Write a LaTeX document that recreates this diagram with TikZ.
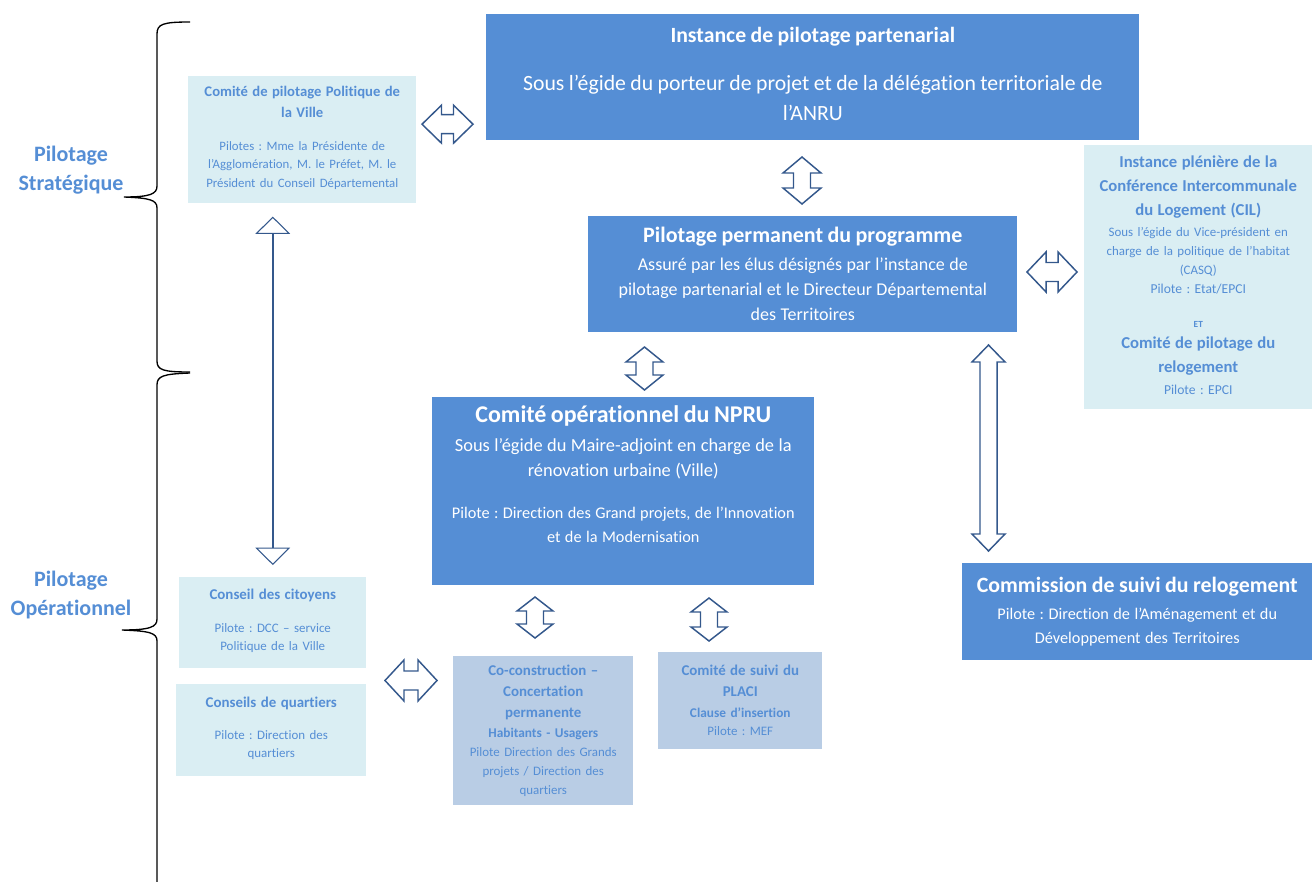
\documentclass[tikz,border=0pt]{standalone}
\usepackage{fontspec}
\setmainfont{Carlito}[Ligatures={NoCommon}]
\usetikzlibrary{arrows.meta}
\frenchspacing

\definecolor{pilotblue}{RGB}{85,142,213}
\definecolor{lightcyan}{RGB}{218,238,243}
\definecolor{steelbox}{RGB}{185,205,229}
\definecolor{arrowline}{RGB}{52,88,140}

\newcommand{\px}{0.75pt}
\newcommand{\fsz}[2]{\fontsize{#1}{#2}\selectfont}

\tikzset{
  boxsize/.style 2 args={minimum width=#1*\px, minimum height=#2*\px,
    text width=#1*\px-6pt},
  darkbox/.style={fill=pilotblue, text=white, inner sep=0pt,
    align=center, anchor=north west},
  lightbox/.style={fill=lightcyan, text=pilotblue, inner sep=0pt,
    align=center, anchor=north west},
  midbox/.style={fill=steelbox, text=pilotblue, inner sep=0pt,
    align=center, anchor=north west},
  sidelabel/.style={text=pilotblue, font=\bfseries\fsz{16.5}{21.75},
    align=center},
  blockarrow/.style={draw=arrowline, line width=1.1pt, fill=white,
    line join=miter},
  linkarrow/.style={draw=arrowline, line width=1.5pt,
    {Triangle[open, width=26pt, length=13pt, line width=0.8pt]}-{Triangle[open, width=26pt, length=13pt, line width=0.8pt]}},
  brace/.style={draw=black, line width=1pt},
  pics/dblarrow/.style n args={4}{code={
    \draw[blockarrow] (-#1,0) -- (-#1+#4,#3) -- (-#1+#4,#2) -- (#1-#4,#2)
      -- (#1-#4,#3) -- (#1,0) -- (#1-#4,-#3) -- (#1-#4,-#2)
      -- (-#1+#4,-#2) -- (-#1+#4,-#3) -- cycle;
  }}
}

\begin{document}
\begin{tikzpicture}[x=0.75pt, y=-0.75pt]
  \useasboundingbox (0,0) rectangle (1312,881);

  % top level
  \node[darkbox, boxsize={653}{126}] (inst) at (486,14) {%
    {\bfseries\fsz{16.3}{22.5}Instance de pilotage partenarial\par}
    \vspace{13.5pt}
    {\fsz{16.3}{22.5}Sous l’égide du porteur de projet et de la délégation territoriale de\\l’ANRU\par}
    \vspace{4.5pt}};

  \node[lightbox, boxsize={228}{127}] (polville) at (188,76) {%
    {\bfseries\fsz{11}{15.75}Comité de pilotage Politique de\\la Ville\par}
    \vspace{10.75pt}
    {\fsz{9.6}{14}Pilotes : Mme la Présidente de\\l’Agglomération, M. le Préfet, M. le\\Président du Conseil Départemental\par}
    \vspace{3pt}};

  \node[darkbox, boxsize={429}{116}] (perm) at (588,216) {%
    {\bfseries\fsz{16.5}{21}Pilotage permanent du programme\par}
    \vspace{2.25pt}
    {\fsz{13.5}{18.75}Assuré par les élus désignés par l’instance de\\pilotage partenarial et le Directeur Départemental\\des Territoires\par}};

  \node[lightbox, boxsize={228}{264}] (cil) at (1084,145) {%
    {\bfseries\fsz{12.5}{18}Instance plénière de la\\Conférence Intercommunale\\du Logement (CIL)\par}
    \vspace{1.5pt}
    {\fsz{9.7}{14.25}Sous l’égide du Vice-président en\\charge de la politique de l’habitat\\(CASQ)\\{\fsz{10.2}{15}Pilote : Etat/EPCI}\par}
    \vspace{16pt}
    {\bfseries\fsz{7}{10}ET\par}
    \vspace{-2.25pt}
    {\bfseries\fsz{12.5}{18}Comité de pilotage du\\relogement\par}
    \vspace{2.5pt}
    {\fsz{10.2}{14}Pilote : EPCI\par}
    \vspace{3pt}};

  % operational level
  \node[darkbox, boxsize={382}{188}] (opcom) at (432,397) {%
    {\bfseries\fsz{18}{20}Comité opérationnel du NPRU\par}
    \vspace{3pt}
    {\fsz{13.8}{18.75}Sous l’égide du Maire-adjoint en charge de la\\rénovation urbaine (Ville)\par}
    \vspace{13.5pt}
    {\fsz{12.2}{18}Pilote : Direction des Grand projets, de l’Innovation\\et de la Modernisation\par}
    \vspace{25pt}};

  \node[darkbox, boxsize={350}{97}] (comrel) at (962,563) {%
    {\bfseries\fsz{16.4}{18}Commission de suivi du relogement\par}
    \vspace{2.25pt}
    {\fsz{12.2}{18}Pilote : Direction de l’Aménagement et du\\Développement des Territoires\par}};

  \node[lightbox, boxsize={187}{91}] (citoy) at (179,577) {%
    {\bfseries\fsz{11.2}{15.75}Conseil des citoyens\par}
    \vspace{11.25pt}
    {\fsz{9.7}{13.5}Pilote : DCC – service\\Politique de la Ville\par}
    \vspace{3pt}};

  \node[lightbox, boxsize={190}{92}] (quart) at (176,684) {%
    {\bfseries\fsz{11.2}{15.75}Conseils de quartiers\par}
    \vspace{10.5pt}
    {\fsz{9.7}{13.5}Pilote : Direction des\\quartiers\par}
    \vspace{3pt}};

  \node[midbox, boxsize={180}{149}] (cocon) at (453,656) {%
    {\bfseries\fsz{11.2}{15.75}Co-construction –\\Concertation\\permanente\par}
    {\bfseries\fsz{10}{15}Habitants - Usagers\par}
    {\fsz{9.7}{14.25}Pilote Direction des Grands\\projets / Direction des\\quartiers\par}};

  \node[midbox, boxsize={164}{97}] (placi) at (658,652) {%
    {\bfseries\fsz{11.2}{15.75}Comité de suivi du\\PLACI\par}
    {\bfseries\fsz{10}{15.75}Clause d’insertion\par}
    {\fsz{9.7}{13.5}Pilote : MEF\par}};

  % side labels
  \node[sidelabel] (strat) at (71,170) {Pilotage\\Stratégique};
  \node[sidelabel] (oper) at (71,595) {Pilotage\\Opérationnel};

  % braces
  \draw[brace] (190,22) .. controls (163,22) and (157,24) .. (157,34)
    -- (157,186) .. controls (157,194) and (150,197) .. (124,197)
    .. controls (150,198) and (157,200) .. (157,208)
    -- (157,361) .. controls (157,370) and (163,372) .. (190,372);
  \draw[brace] (190,373) .. controls (163,374) and (157,376) .. (157,385)
    -- (157,619) .. controls (157,627) and (150,630) .. (122,630)
    .. controls (150,631) and (157,633) .. (157,641)
    -- (157,900);

  % links
  \draw[linkarrow, shorten <=13*\px, shorten >=12*\px]
    (citoy.north |- polville.south) -- (citoy.north);

  \pic at (447.5,124.2) {dblarrow={25.5}{9.5}{19}{19.5}};
  \pic[rotate=90] at (802,180.5) {dblarrow={23.5}{8.5}{19}{16}};
  \pic[rotate=90] at (644.5,368.5) {dblarrow={21.5}{8.5}{18.5}{15}};
  \pic at (1052,272) {dblarrow={25}{9.5}{20}{19}};
  \pic[rotate=90] at (988.5,448) {dblarrow={103}{8.5}{16.5}{17}};
  \pic[rotate=90] at (535,617.5) {dblarrow={20.5}{8.5}{18}{14}};
  \pic[rotate=90] at (709,619.5) {dblarrow={21.5}{8.5}{18}{14}};
  \pic at (411,680.5) {dblarrow={26}{9.5}{20.5}{19}};
\end{tikzpicture}
\end{document}
